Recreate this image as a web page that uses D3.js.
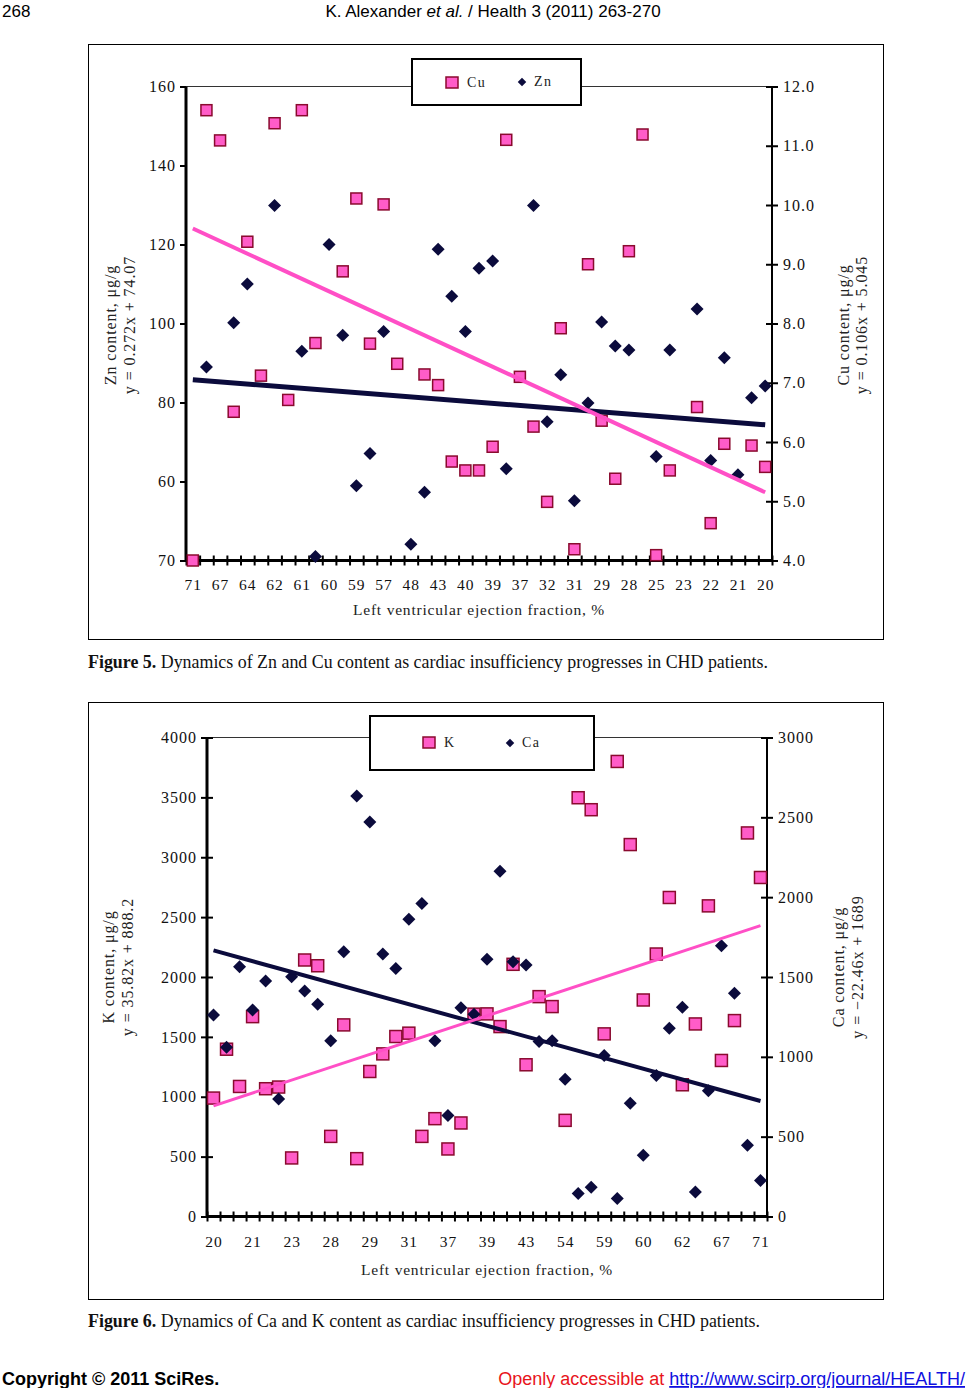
<!DOCTYPE html>
<html>
<head>
<meta charset="utf-8">
<script src="https://cdn.jsdelivr.net/npm/d3@7"></script>
<style>
  body { margin: 0; background: #fff; }
  svg { display: block; }
  .serif { font-family: "Liberation Serif", "Times New Roman", serif; }
  .sans { font-family: "Liberation Sans", Arial, sans-serif; }
</style>
</head>
<body>
<svg id="page" width="967" height="1388"></svg>
<script>
// ---- Figure 5 data (order as plotted, left to right) ----
var fig5Labels = ["71","67","64","62","61","60","59","57","48","43","40","39","37","32","31","29","28","25","23","22","21","20"];
var znValues = [null, 89.0, null, 100.2, 110.0, null, 129.9, null, 93.0, 41.0, 120.0, 97.0, 58.9, 67.1, 98.0,
                null, 44.1, 57.3, 118.8, 106.9, 98.0, 114.0, 115.8, 63.2, null, 129.9, 75.1, 87.0, 55.1, 79.9,
                100.4, 94.3, 93.3, null, 66.3, 93.3, null, 103.7, 65.3, 91.3, 61.7, 81.2, 84.2];
var cuValues = [4.0, 11.60, 11.09, 6.51, 9.38, 7.12, 11.38, 6.71, 11.60, 7.67, null, 8.88, 10.11, 7.66, 10.01,
                7.32, null, 7.14, 6.96, 5.67, 5.52, 5.52, 5.92, 11.10, 7.10, 6.26, 4.99, 7.92, 4.19, 9.00,
                6.36, 5.38, 9.22, 11.19, 4.09, 5.52, null, 6.59, 4.63, 5.97, null, 5.94, 5.58];
var znTicks = [40, 60, 80, 100, 120, 140, 160];
var znTickLabels = ["70", "60", "80", "100", "120", "140", "160"];   // as printed
var cuTicks = [4, 5, 6, 7, 8, 9, 10, 11, 12];
var znTrend = [0.272, 74.07];   // slope, intercept (x counted from the right)
var cuTrend = [0.106, 5.045];

// ---- Figure 6 data ----
var fig6Labels = ["20","21","23","28","29","31","37","39","43","54","59","60","62","67","71"];
var kValues = [989, 1397, 1086, 1669, 1067, 1081, 489, 2142, 2094, 669, 1600, 483, 1211, 1358, 1503,
               1531, 669, 817, 564, 781, 1690, 1692, 1586, 2106, 1267, 1836, 1753, 803, 3497, 3397,
               1525, 3800, 3106, 1808, 2192, 2664, 1100, 1608, 2594, 1303, 1636, 3203, 2831];
var caValues = [1262, 1060, 1564, 1294, 1475, 736, 1502, 1412, 1329, 1100, 1658, 2633, 2471, 1644, 1554,
                1861, 1960, 1100, 633, 1308, 1267, 1611, 2163, 1596, 1575, 1096, 1100, 860, 144, 183,
                1008, 112, 710, 383, 883, 1179, 1311, 154, 788, 1696, 1398, 446, 225];
var kTicks = [0, 500, 1000, 1500, 2000, 2500, 3000, 3500, 4000];
var caTicks = [0, 500, 1000, 1500, 2000, 2500, 3000];
var kTrend = [35.82, 888.2];
var caTrend = [-22.46, 1689];

var PINK = "#ff5cc8", PINK_EDGE = "#8a0a2e", PINK_LINE = "#ff4fc6", NAVY = "#0b0b3c";

var svg = d3.select("#page");

function crossTicks(g, len) {
    g.selectAll(".tick line").attr("x1", -len).attr("x2", len);
}

function drawPanel(o) {
    var n = o.leftValues.length;
    var g = svg.append("g").attr("class", "serif");

    g.append("rect")
        .attr("x", o.frame[0] + 0.5).attr("y", o.frame[1] + 0.5)
        .attr("width", o.frame[2] - o.frame[0]).attr("height", o.frame[3] - o.frame[1])
        .attr("fill", "none").attr("stroke", "#000").attr("stroke-width", 1);

    var x = d3.scaleLinear().domain([-0.5, n - 0.5]).range([o.left, o.right]);
    var yL = d3.scaleLinear().domain(o.leftDomain).range([o.bottom, o.top]);
    var yR = d3.scaleLinear().domain(o.rightDomain).range([o.bottom, o.top]);

    // top border of plot area
    g.append("line")
        .attr("x1", o.left).attr("x2", o.right).attr("y1", o.top).attr("y2", o.top)
        .attr("stroke", "#333").attr("stroke-width", 1);

    // left axis
    var la = g.append("g").attr("transform", "translate(" + o.left + ",0)")
        .call(d3.axisLeft(yL).tickValues(o.leftTicks).tickSize(6)
            .tickFormat(function (d, i) { return o.leftTickLabels ? o.leftTickLabels[i] : d; }));
    la.select(".domain").attr("stroke-width", 3).attr("d", "M0," + o.top + "V" + o.bottom);
    if (o.leftTickIn) crossTicks(la, 6);
    la.selectAll(".tick line").attr("stroke-width", 2);
    la.selectAll("text").attr("x", o.leftLabelX).attr("font-size", 16).attr("letter-spacing", 1)
        .attr("font-family", "Liberation Serif").attr("fill", "#111");

    // right axis
    var ra = g.append("g").attr("transform", "translate(" + o.right + ",0)")
        .call(d3.axisRight(yR).tickValues(o.rightTicks).tickSize(6).tickFormat(o.rightFormat));
    ra.select(".domain").attr("stroke-width", 2).attr("d", "M0," + o.top + "V" + o.bottom);
    crossTicks(ra, 6);
    ra.selectAll(".tick line").attr("stroke-width", 2);
    ra.selectAll("text").attr("x", o.rightLabelX).attr("font-size", 16).attr("letter-spacing", 1)
        .attr("font-family", "Liberation Serif").attr("fill", "#111");

    // bottom axis: tick marks between categories, labels every few categories
    var bounds = d3.range(n + 1).map(function (i) { return i - 0.5; });
    var ba = g.append("g").attr("transform", "translate(0," + o.bottom + ")")
        .call(d3.axisBottom(x).tickValues(bounds).tickSize(5).tickFormat(""));
    ba.select(".domain").attr("stroke-width", 3).attr("d", "M" + o.left + ",0H" + o.right);
    ba.selectAll(".tick line").attr("y1", -5).attr("y2", 5).attr("stroke-width", 2);

    var labelIdx = o.xLabels.map(function (d, i) { return i * o.labelEvery; });
    var bl = g.append("g").attr("transform", "translate(0," + o.bottom + ")")
        .call(d3.axisBottom(x).tickValues(labelIdx).tickSize(0)
            .tickFormat(function (d, i) { return o.xLabels[i]; }));
    bl.select(".domain").remove();
    bl.selectAll("text").attr("y", o.xLabelDy).attr("dy", "0.35em").attr("font-size", 15.5)
        .attr("letter-spacing", 1).attr("font-family", "Liberation Serif").attr("fill", "#111");

    g.append("text")
        .attr("x", (o.left + o.right) / 2).attr("y", o.bottom + o.xTitleDy)
        .attr("text-anchor", "middle").attr("dy", "0.35em")
        .attr("font-size", 15.5).attr("letter-spacing", 0.8).attr("fill", "#222")
        .text("Left ventricular ejection fraction, %");

    // rotated axis titles
    function vtext(px, py, s) {
        g.append("text")
            .attr("transform", "translate(" + px + "," + py + ") rotate(-90)")
            .attr("text-anchor", "middle").attr("dy", "0.35em")
            .attr("font-size", 16).attr("letter-spacing", 0.9).attr("fill", "#222")
            .text(s);
    }
    vtext(o.leftTitleX[0], o.titleY, o.leftTitle[0]);
    vtext(o.leftTitleX[1], o.titleY, o.leftTitle[1]);
    vtext(o.rightTitleX[0], o.titleY, o.rightTitle[0]);
    vtext(o.rightTitleX[1], o.titleY, o.rightTitle[1]);

    // markers
    var sqSeries = o.squaresOnLeft ? o.leftValues : o.rightValues;
    var sqScale = o.squaresOnLeft ? yL : yR;
    var dmSeries = o.squaresOnLeft ? o.rightValues : o.leftValues;
    var dmScale = o.squaresOnLeft ? yR : yL;
    var s = o.sq;

    g.append("g").selectAll("rect")
        .data(sqSeries.map(function (v, i) { return { i: i, v: v }; }).filter(function (d) { return d.v != null; }))
        .enter().append("rect")
        .attr("x", function (d) { return x(d.i) - s / 2; })
        .attr("y", function (d) { return sqScale(d.v) - s / 2; })
        .attr("width", s).attr("height", s)
        .attr("fill", PINK).attr("stroke", PINK_EDGE).attr("stroke-width", 1.5);

    var dm = d3.symbol().type(d3.symbolSquare).size(o.dm * o.dm / 2);
    g.append("g").selectAll("path")
        .data(dmSeries.map(function (v, i) { return { i: i, v: v }; }).filter(function (d) { return d.v != null; }))
        .enter().append("path")
        .attr("d", dm)
        .attr("transform", function (d) {
            return "translate(" + x(d.i) + "," + dmScale(d.v) + ") rotate(45)";
        })
        .attr("fill", NAVY);

    // trend lines
    var line = d3.line().x(function (d) { return x(d[0]); }).y(function (d) { return d[1]; });
    function trendPts(coef, scale) {
        return [0, n - 1].map(function (i) {
            var xv = o.reversed ? n - i : i + 1;
            return [i, scale(coef[0] * xv + coef[1])];
        });
    }
    var dmTrend = o.squaresOnLeft ? o.rightTrend : o.leftTrend;
    var sqTrend = o.squaresOnLeft ? o.leftTrend : o.rightTrend;
    g.append("path").attr("d", line(trendPts(dmTrend, dmScale)))
        .attr("fill", "none").attr("stroke", NAVY).attr("stroke-width", o.navyW);
    g.append("path").attr("d", line(trendPts(sqTrend, sqScale)))
        .attr("fill", "none").attr("stroke", PINK_LINE).attr("stroke-width", o.pinkW);

    // legend
    var lg = o.legend;
    g.append("rect")
        .attr("x", lg.box[0]).attr("y", lg.box[1])
        .attr("width", lg.box[2] - lg.box[0]).attr("height", lg.box[3] - lg.box[1])
        .attr("fill", "#fff").attr("stroke", "#000").attr("stroke-width", 2);
    g.append("rect")
        .attr("x", lg.sq[0] - 6).attr("y", lg.sq[1] - 6).attr("width", 12).attr("height", 11)
        .attr("fill", PINK).attr("stroke", PINK_EDGE).attr("stroke-width", 1.5);
    g.append("text").attr("x", lg.sq[0] + 15).attr("y", lg.sq[1]).attr("dy", "0.3em")
        .attr("font-size", 14).attr("letter-spacing", 1.5).attr("fill", "#222").text(lg.names[0]);
    g.append("path")
        .attr("d", d3.symbol().type(d3.symbolSquare).size(36))
        .attr("transform", "translate(" + lg.dm[0] + "," + lg.dm[1] + ") rotate(45)")
        .attr("fill", NAVY);
    g.append("text").attr("x", lg.dm[0] + 12).attr("y", lg.dm[1]).attr("dy", "0.3em")
        .attr("font-size", 14).attr("letter-spacing", 1.5).attr("fill", "#222").text(lg.names[1]);

    // caption
    var cap = svg.append("text").attr("class", "serif").attr("x", 88).attr("y", o.captionY)
        .attr("font-size", 17.9).attr("fill", "#111");
    cap.append("tspan").attr("font-weight", "bold").text(o.caption[0]);
    cap.append("tspan").text(o.caption[1]);
}

// header
svg.append("text").attr("class", "sans").attr("x", 2).attr("y", 17).attr("font-size", 17).text("268");
var hdr = svg.append("text").attr("class", "sans").attr("x", 493).attr("y", 17)
    .attr("text-anchor", "middle").attr("font-size", 17);
hdr.append("tspan").text("K. Alexander ");
hdr.append("tspan").attr("font-style", "italic").text("et al.");
hdr.append("tspan").text(" / Health 3 (2011) 263-270");

drawPanel({
    frame: [88, 44, 883, 639],
    left: 186, right: 772, top: 86.5, bottom: 560.5,
    leftValues: znValues, rightValues: cuValues,
    leftDomain: [40, 160], rightDomain: [4, 12],
    leftTicks: znTicks, leftTickLabels: znTickLabels,
    rightTicks: cuTicks, rightFormat: d3.format(".1f"),
    leftLabelX: -10, rightLabelX: 11, leftTickIn: false,
    xLabels: fig5Labels, labelEvery: 2, xLabelDy: 24, xTitleDy: 49,
    leftTitle: ["Zn content, \u03bcg/g", "y = 0.272x + 74.07"], leftTitleX: [110, 129],
    rightTitle: ["Cu content, \u03bcg/g", "y = 0.106x + 5.045"], rightTitleX: [843, 861],
    titleY: 325,
    squaresOnLeft: false, sq: 11, dm: 13,
    leftTrend: znTrend, rightTrend: cuTrend, reversed: true,
    navyW: 5, pinkW: 4,
    legend: { box: [412, 59, 581, 105], sq: [452, 83], dm: [522, 82], names: ["Cu", "Zn"] },
    captionY: 668,
    caption: ["Figure 5.", " Dynamics of Zn and Cu content as cardiac insufficiency progresses in CHD patients."]
});

drawPanel({
    frame: [88, 702, 883, 1299],
    left: 207, right: 767, top: 737.5, bottom: 1216.5,
    leftValues: kValues, rightValues: caValues,
    leftDomain: [0, 4000], rightDomain: [0, 3000],
    leftTicks: kTicks, leftTickLabels: null,
    rightTicks: caTicks, rightFormat: d3.format("d"),
    leftLabelX: -10, rightLabelX: 11, leftTickIn: true,
    xLabels: fig6Labels, labelEvery: 3, xLabelDy: 25, xTitleDy: 53,
    leftTitle: ["K content, \u03bcg/g", "y = 35.82x + 888.2"], leftTitleX: [108, 127],
    rightTitle: ["Ca content, \u03bcg/g", "y = \u221222.46x + 1689"], rightTitleX: [838, 857],
    titleY: 967,
    squaresOnLeft: true, sq: 12, dm: 13,
    leftTrend: kTrend, rightTrend: caTrend, reversed: false,
    navyW: 4, pinkW: 3,
    legend: { box: [370, 716, 594, 770], sq: [429, 743], dm: [510, 743], names: ["K", "Ca"] },
    captionY: 1327,
    caption: ["Figure 6.", " Dynamics of Ca and K content as cardiac insufficiency progresses in CHD patients."]
});

// footer
svg.append("text").attr("class", "sans").attr("x", 2).attr("y", 1385)
    .attr("font-size", 18).attr("font-weight", "bold").text("Copyright \u00a9 2011 SciRes.");
var ft = svg.append("text").attr("class", "sans").attr("x", 965).attr("y", 1385)
    .attr("text-anchor", "end").attr("font-size", 18);
ft.append("tspan").attr("fill", "#e8141b").text("Openly accessible at ");
ft.append("tspan").attr("fill", "#1010e0").attr("text-decoration", "underline")
    .text("http://www.scirp.org/journal/HEALTH/");
</script>
</body>
</html>
